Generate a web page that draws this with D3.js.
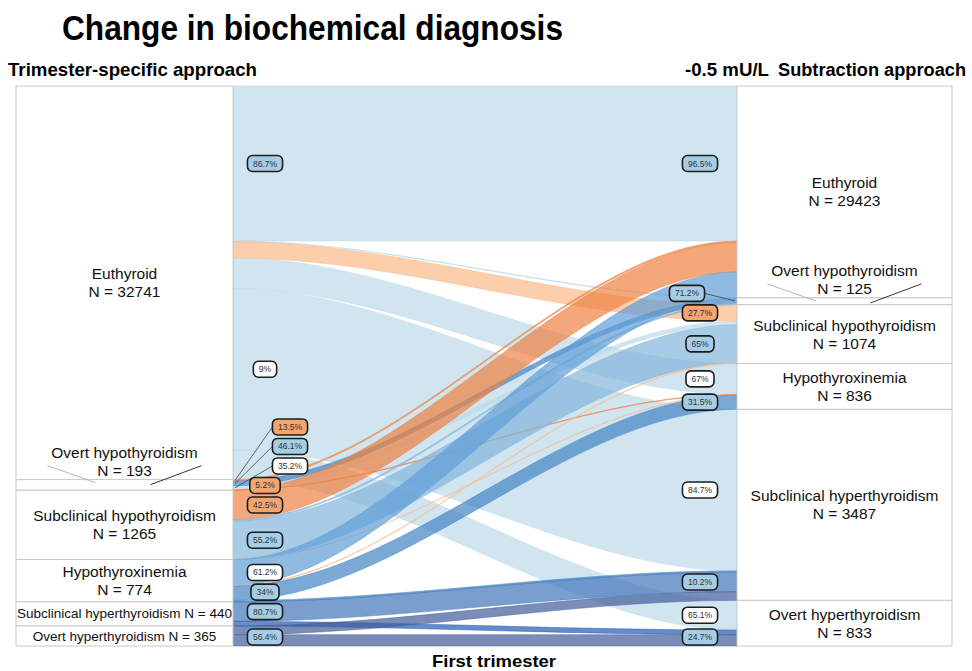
<!DOCTYPE html>
<html lang="en">
<head>
<meta charset="utf-8">
<title>Change in biochemical diagnosis</title>
<style>
  body { margin: 0; background: #fff; }
  svg text { font-family: "Liberation Sans", Arial, sans-serif; }
</style>
</head>
<body>
<script src="https://cdnjs.cloudflare.com/ajax/libs/d3/7.9.0/d3.min.js"></script>
<script>
const categories = ["Euthyroid", "Overt hypothyroidism", "Subclinical hypothyroidism",
  "Hypothyroxinemia", "Subclinical hyperthyroidism", "Overt hyperthyroidism"];
const leftN  = [32741, 193, 1265, 774, 440, 365];
const rightN = [29423, 125, 1074, 836, 3487, 833];

// one entry per ribbon (index into categories)
const flowFrom  = [0, 0, 0, 0, 0, 0, 1, 1, 1, 1, 2, 2, 2, 2, 3, 3, 3, 3, 4, 4, 5, 5];
const flowTo    = [0, 1, 2, 3, 4, 5, 0, 1, 2, 3, 0, 1, 2, 3, 0, 2, 3, 4, 4, 5, 4, 5];
const flowCount = [28385, 10, 297, 560, 2947, 542, 26, 89, 68, 10, 538, 26, 698, 3, 474, 11, 263, 26, 355, 85, 159, 206];
const flowColor = ["pale", "pale", "peach", "pale", "pale", "pale", "orange", "deep", "pale", "orange",
  "orange", "sky", "sky", "peach", "mid", "peach", "deep", "deep", "steel", "royal", "slate", "slate"];
const pctLeft  = [86.7, null, null, null, 9, null, 13.5, 46.1, 35.2, 5.2, 42.5, null, 55.2, null, 61.2, null, 34, null, 80.7, null, null, 56.4];
const pctRight = [96.5, null, 27.7, 67, 84.7, 65.1, null, 71.2, null, null, null, null, 65, null, null, null, 31.5, null, 10.2, null, null, 24.7];
const pctTone  = ["blue", "", "orange", "white", "white", "white", "orange", "blue", "white", "orange",
  "orange", "", "blue", "", "white", "", "blue", "", "blue", "", "", "blue"];

// the Euthyroid -> Euthyroid ribbon is drawn cut short (axis break), as in the original
const stayShown = 2830;

const ribbonFill = {pale: "#bcdae8", peach: "#fbb988", orange: "#ef8141", sky: "#83b5db", mid: "#5f9ed7",
  deep: "#4184c4", steel: "#4276bb", royal: "#225bb1", slate: "#415c9a"};
const toneFill = {blue: "#a6cde6", orange: "#f4a46e", white: "#ffffff"};

const width = 972, height = 671;
const leftBox = [16, 233], rightBox = [737, 952];

const svg = d3.select("body").append("svg")
    .attr("width", width)
    .attr("height", height);

const shown = flowCount.map((c, i) => flowFrom[i] === 0 && flowTo[i] === 0 ? stayShown : c);
const y = d3.scaleLinear()
    .domain([0, d3.sum(shown)])
    .range([86, 646]);

// stack ribbons inside each stratum
const ids = d3.range(flowCount.length);
function stack(key, other) {
  const pos = [], nodes = [];
  let acc = 0;
  categories.forEach((c, k) => {
    const start = acc;
    ids.filter(i => key[i] === k)
      .sort((a, b) => other[a] - other[b])
      .forEach(i => { pos[i] = [acc, acc + shown[i]]; acc += shown[i]; });
    nodes.push([start, acc]);
  });
  return {pos, nodes};
}
const L = stack(flowFrom, flowTo);
const R = stack(flowTo, flowFrom);

function ribbon(x0, x1, a0, a1, b0, b1) {
  const c1 = x0 + (x1 - x0) / 3, c2 = x0 + 2 * (x1 - x0) / 3;
  const p = d3.path();
  p.moveTo(x0, a0);
  p.bezierCurveTo(c1, a0, c2, b0, x1, b0);
  p.lineTo(x1, b1);
  p.bezierCurveTo(c2, b1, c1, a1, x0, a1);
  p.closePath();
  return p.toString();
}

const order = ids.slice().sort((a, b) => (flowColor[b] === "pale") - (flowColor[a] === "pale"));
svg.append("g").selectAll("path")
  .data(order)
  .join("path")
    .attr("d", i => ribbon(leftBox[1], rightBox[0],
        y(L.pos[i][0]), y(L.pos[i][1]), y(R.pos[i][0]), y(R.pos[i][1])))
    .attr("fill", i => ribbonFill[flowColor[i]])
    .attr("fill-opacity", 0.7)
    .attr("stroke", i => ribbonFill[flowColor[i]])
    .attr("stroke-opacity", 0.8)
    .attr("stroke-width", 0.6);

// strata
function drawNodes(nodes, counts, box) {
  const g = svg.append("g");
  const cx = (box[0] + box[1]) / 2;
  nodes.forEach((n, k) => {
    const top = y(n[0]), bot = y(n[1]), h = bot - top, mid = (top + bot) / 2;
    g.append("rect")
      .attr("x", box[0]).attr("y", top)
      .attr("width", box[1] - box[0]).attr("height", h)
      .attr("fill", "#fff").attr("stroke", "#c9c9c9").attr("stroke-width", 1);
    const nText = "N = " + counts[k];
    if (h >= 30) {
      g.append("text").attr("x", cx).attr("y", mid - 9).attr("text-anchor", "middle")
        .attr("dominant-baseline", "central").attr("font-size", 15.5).attr("fill", "#111").text(categories[k]);
      g.append("text").attr("x", cx).attr("y", mid + 9).attr("text-anchor", "middle")
        .attr("dominant-baseline", "central").attr("font-size", 15.5).attr("fill", "#111").text(nText);
    } else if (h >= 15) {
      g.append("text").attr("x", cx).attr("y", mid).attr("text-anchor", "middle")
        .attr("dominant-baseline", "central").attr("font-size", 13.5).attr("fill", "#111")
        .text(categories[k] + " " + nText);
    } else {
      g.append("text").attr("x", cx).attr("y", top - 27).attr("text-anchor", "middle")
        .attr("dominant-baseline", "central").attr("font-size", 15.5).attr("fill", "#111").text(categories[k]);
      g.append("text").attr("x", cx).attr("y", top - 9).attr("text-anchor", "middle")
        .attr("dominant-baseline", "central").attr("font-size", 15.5).attr("fill", "#111").text(nText);
      g.append("line").attr("x1", cx - 77).attr("y1", top - 14).attr("x2", cx - 29).attr("y2", top + 3)
        .attr("stroke", "#b5b5b5").attr("stroke-width", 1);
      g.append("line").attr("x1", cx + 26).attr("y1", top + 5).attr("x2", cx + 77).attr("y2", top - 14)
        .attr("stroke", "#333").attr("stroke-width", 1);
    }
  });
}
drawNodes(L.nodes, leftN, leftBox);
drawNodes(R.nodes, rightN, rightBox);

// percentage tags: pushed upward from the bottom where they would overlap, then down from the top
const fmt = v => (Math.round(v * 10) / 10) + "%";
function repel(items, lo, hi, gap) {
  items.sort((a, b) => a.y0 - b.y0);
  items.forEach(d => d.y = d.y0);
  let limit = hi;
  for (let j = items.length - 1; j >= 0; j--) {
    items[j].y = Math.min(items[j].y, limit);
    limit = items[j].y - gap;
  }
  limit = lo;
  items.forEach(d => { d.y = Math.max(d.y, limit); limit = d.y + gap; });
  return items;
}

function drawTags(pcts, pos, nodes, key, side) {
  const items = ids.filter(i => pcts[i] != null).map(i => {
    const node = nodes[key[i]];
    return {i, y0: (y(pos[i][0]) + y(pos[i][1])) / 2, tiny: y(node[1]) - y(node[0]) < 15};
  });
  repel(items, 94, 637, 19.5);
  const g = svg.append("g");
  items.forEach(d => {
    // tags of a tiny stratum that had to move sit further in, with a leader line back to it
    const lead = d.tiny && Math.abs(d.y - d.y0) > 6;
    const cx = side === "left" ? (lead ? 290 : 265) : (lead ? 687 : 700);
    const t = g.append("text")
      .attr("x", cx).attr("y", d.y)
      .attr("text-anchor", "middle").attr("dominant-baseline", "central")
      .attr("font-size", 8.5).attr("fill", "#333")
      .text(fmt(pcts[d.i]));
    const w = t.node().getComputedTextLength() + 11;
    if (lead) {
      g.insert("line", "text")
        .attr("x1", side === "left" ? cx - w / 2 : cx + w / 2).attr("y1", d.y)
        .attr("x2", side === "left" ? leftBox[1] + 2 : rightBox[0] - 2).attr("y2", d.y0)
        .attr("stroke", "#444").attr("stroke-width", 0.8);
    }
    g.insert("rect", "text")
      .attr("x", cx - w / 2).attr("y", d.y - 8)
      .attr("width", w).attr("height", 16).attr("rx", 5)
      .attr("fill", toneFill[pctTone[d.i]])
      .attr("stroke", "#1d1d1d").attr("stroke-width", 1.6);
  });
}
drawTags(pctLeft, L.pos, L.nodes, flowFrom, "left");
drawTags(pctRight, R.pos, R.nodes, flowTo, "right");

// titles
function heading(str, x, yy, size, len) {
  svg.append("text").attr("x", x).attr("y", yy)
    .attr("font-size", size).attr("font-weight", "bold").attr("fill", "#000")
    .attr("textLength", len).attr("lengthAdjust", "spacingAndGlyphs")
    .text(str);
}
heading("Change in biochemical diagnosis", 62, 40, 35, 501);
heading("Trimester-specific approach", 8, 76, 19, 249);
heading("-0.5 mU/L", 685, 76, 18.5, 84);
heading("Subtraction approach", 778, 76, 17.5, 188);
heading("First trimester", 432, 667, 17, 124);
</script>
</body>
</html>
